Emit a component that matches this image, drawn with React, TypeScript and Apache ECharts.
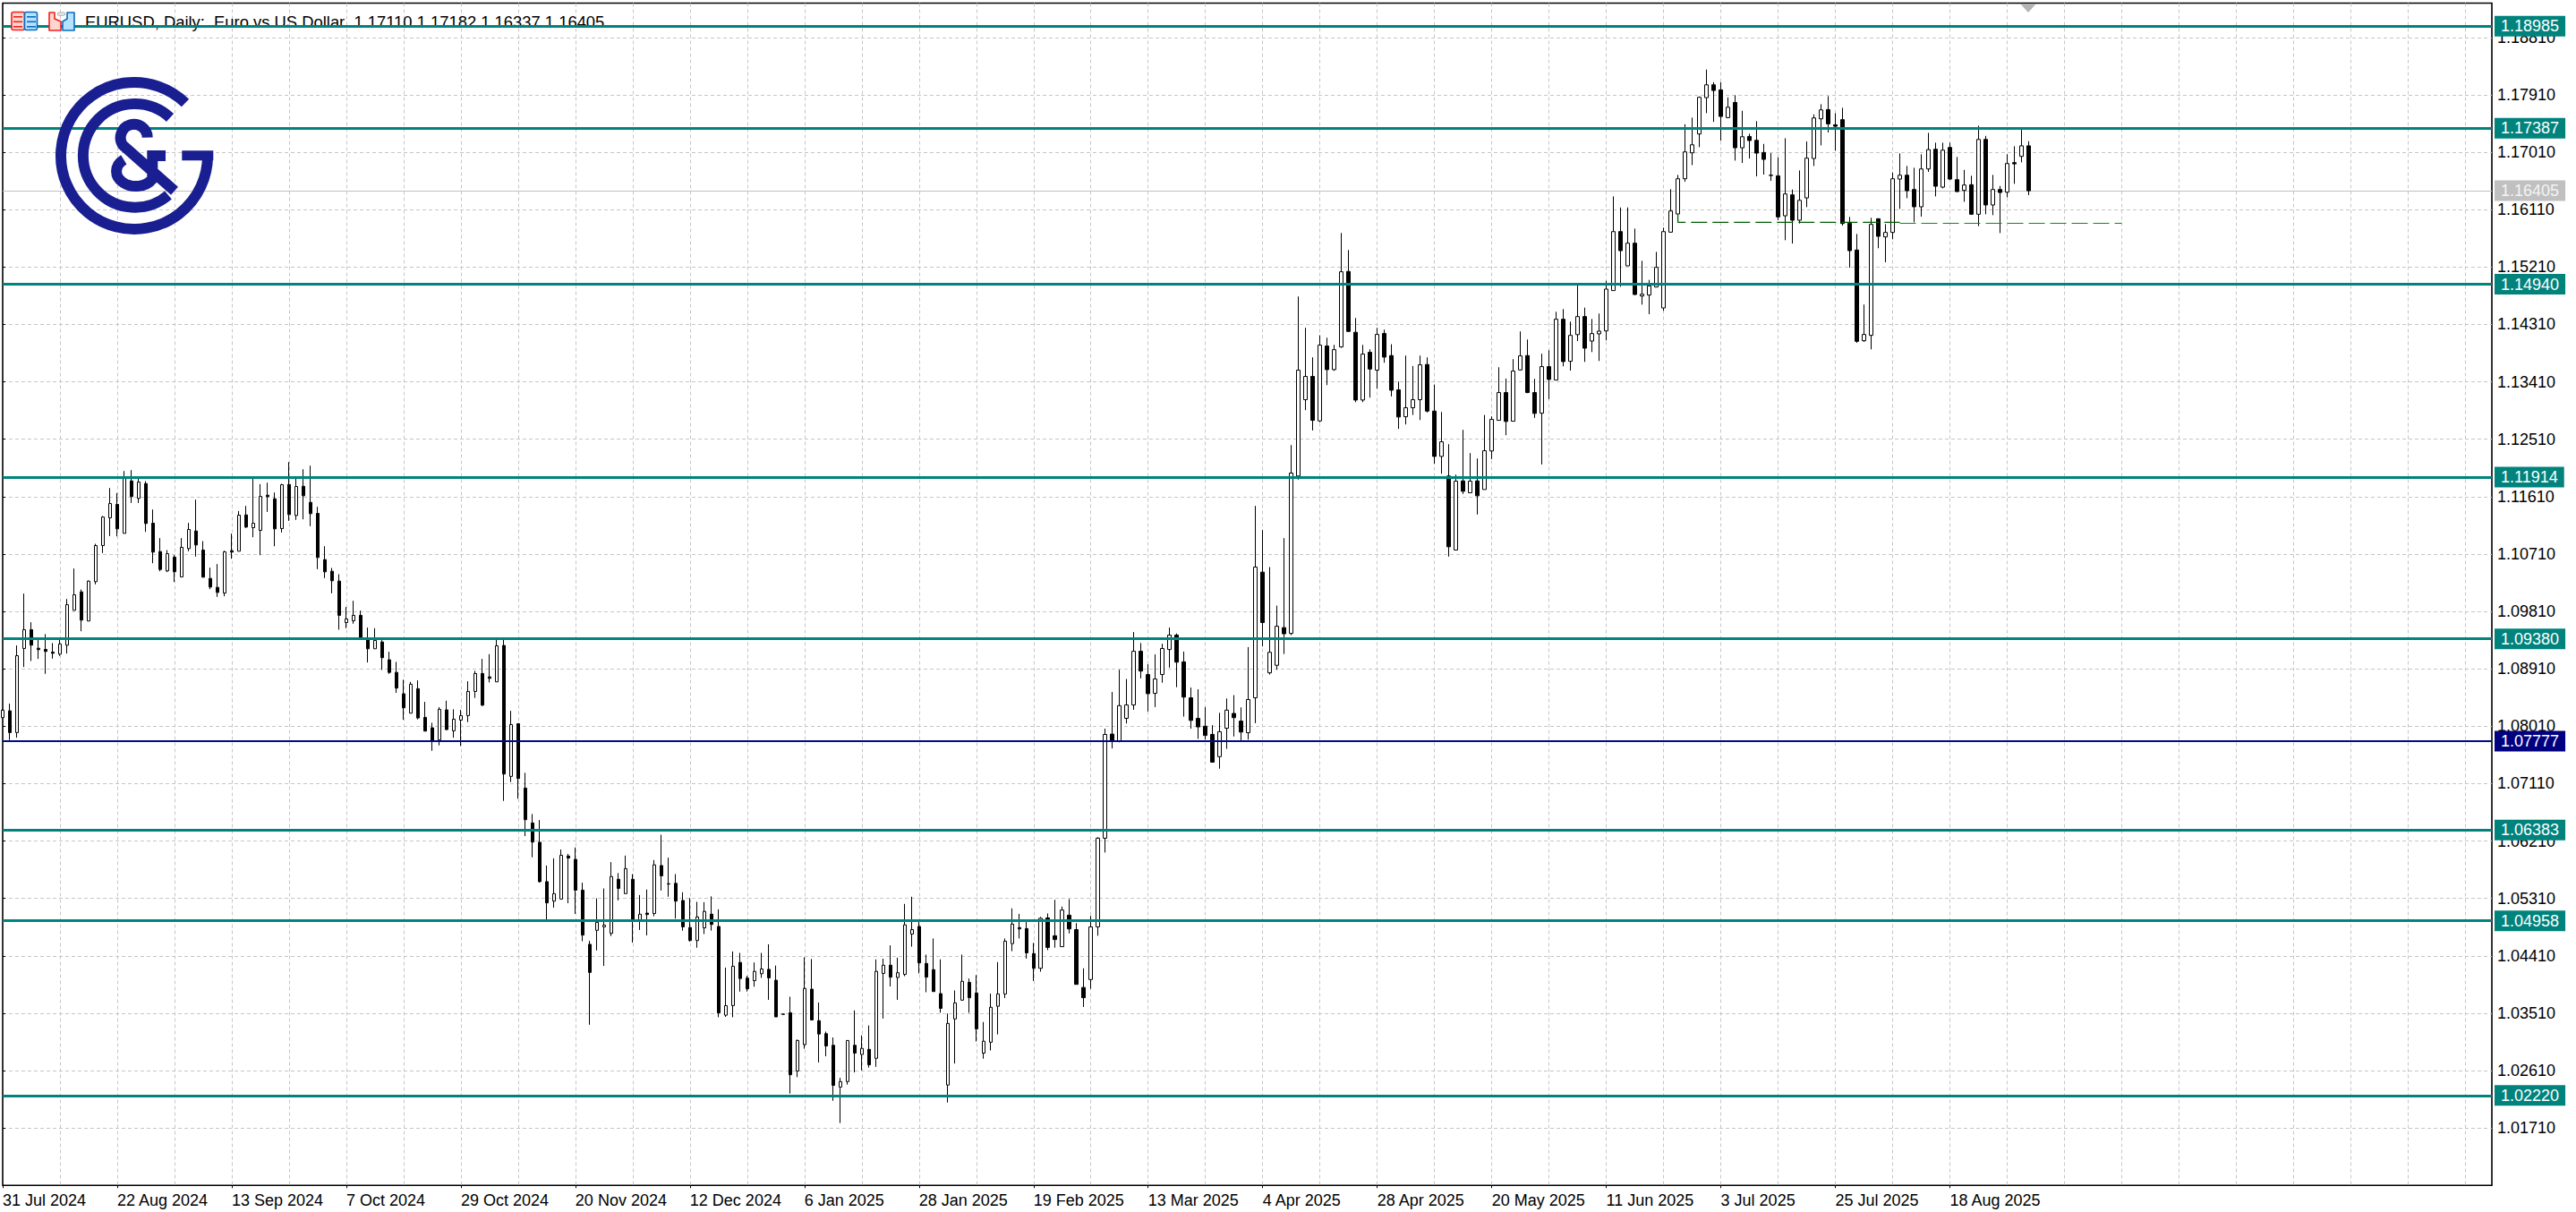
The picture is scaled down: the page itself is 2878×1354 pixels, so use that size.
import React, { useEffect, useRef } from "react";
import * as echarts from "echarts";

// Each row: open, close, low, high
const candlesAug2024ToNov2024 = [
[1.08144,1.08261,1.08144,1.08284],[1.08251,1.0791,1.07793,1.08363],[1.0791,1.09116,1.0783,1.09276],[1.09229,1.09523,1.08938,1.10089],
[1.09523,1.0928,1.09032,1.0964],[1.09233,1.0921,1.09065,1.09383],[1.09214,1.09182,1.08831,1.09453],[1.09172,1.09153,1.0907,1.09313],
[1.0914,1.09299,1.09112,1.09383],[1.0928,1.09915,1.09149,1.10004],[1.09827,1.1007,1.09827,1.10482],[1.10117,1.09673,1.09499,1.10154],
[1.09659,1.10285,1.09659,1.10295],[1.10276,1.10842,1.10234,1.1087],[1.10842,1.1129,1.10725,1.11305],[1.11277,1.11501,1.10991,1.11744],
[1.11487,1.11104,1.10987,1.11665],[1.11033,1.11908,1.11033,1.12011],[1.11856,1.11609,1.1151,1.12025],[1.11581,1.11838,1.1151,1.11908],
[1.11814,1.11188,1.11057,1.11852],[1.11193,1.10739,1.10566,1.11407],[1.10748,1.10468,1.1044,1.10959],[1.10445,1.10715,1.10426,1.10772],
[1.1066,1.1043,1.10271,1.10692],[1.1035,1.10814,1.1035,1.10959],[1.10795,1.11094,1.10753,1.11197],[1.11071,1.10851,1.10669,1.11562],
[1.10772,1.10346,1.10346,1.10912],[1.10327,1.10192,1.10159,1.10496],[1.10187,1.10107,1.10037,1.10552],[1.10098,1.10743,1.10047,1.10762],
[1.10762,1.10739,1.10636,1.11029],[1.10753,1.11319,1.10753,1.11384],[1.11323,1.11132,1.11118,1.11464],[1.11122,1.11192,1.10973,1.11908],
[1.1108,1.11613,1.10692,1.11805],[1.11632,1.11609,1.1137,1.11828],[1.11576,1.11104,1.10832,1.11674],[1.11108,1.11796,1.11047,1.1181],
[1.118,1.11328,1.1123,1.12151],[1.11314,1.11768,1.11244,1.11931],[1.11772,1.11623,1.11253,1.12039],[1.1152,1.11342,1.11146,1.12095],
[1.11347,1.10655,1.10472,1.1145],[1.10622,1.1043,1.10332,1.10832],[1.1044,1.1029,1.10094,1.10491],[1.10285,1.09748,1.09523,1.10393],
[1.09635,1.09691,1.09546,1.09878],[1.09663,1.09748,1.09617,1.09977],[1.09748,1.09392,1.09392,1.09822],[1.09392,1.09224,1.09009,1.09556],
[1.09224,1.09355,1.09224,1.09546],[1.09331,1.09084,1.08892,1.09359],[1.09051,1.08854,1.08831,1.09177],[1.08854,1.08607,1.08532,1.09018],
[1.08518,1.08298,1.08111,1.08738],[1.08214,1.08668,1.08214,1.08705],[1.08598,1.08139,1.08116,1.08729],[1.08148,1.07933,1.07933,1.08392],
[1.07985,1.07788,1.07624,1.08064],[1.07793,1.08275,1.07709,1.08308],[1.08266,1.07957,1.07947,1.0841],[1.07938,1.0812,1.0783,1.08275],
[1.08106,1.08176,1.07699,1.08266],[1.08176,1.08555,1.08074,1.08715],[1.08555,1.08836,1.08453,1.08878],[1.08836,1.0834,1.08326,1.09065],
[1.08784,1.0876,1.08696,1.0914],[1.08705,1.09271,1.08705,1.09383],[1.09276,1.0726,1.06839,1.09383],[1.07223,1.08036,1.07134,1.08251],
[1.0805,1.0719,1.06872,1.0805],[1.0704,1.06544,1.06287,1.07279],[1.06493,1.06194,1.05955,1.06633],
];
const candlesNov2024ToFeb2025 = [
[1.0619,1.05573,1.05557,1.06539],[1.05573,1.0524,1.04977,1.05825],[1.05267,1.05385,1.05165,1.05938],[1.05299,1.05986,1.05299,1.06077],
[1.05975,1.05943,1.05235,1.06008],[1.05922,1.05439,1.05068,1.06109],[1.05439,1.04735,1.04639,1.05557],[1.0459,1.0415,1.03329,1.04644],
[1.0481,1.04934,1.04494,1.0531],[1.04864,1.04891,1.04252,1.05466],[1.04762,1.05653,1.04719,1.05879],[1.0561,1.05466,1.05278,1.05707],
[1.05385,1.05777,1.05385,1.05981],[1.0561,1.0495,1.04617,1.05691],[1.04961,1.05063,1.04816,1.05363],[1.05079,1.05057,1.0473,1.05449],
[1.05073,1.05836,1.05031,1.05911],[1.05825,1.05664,1.05433,1.06308],[1.0554,1.05535,1.05337,1.05949],[1.05546,1.05267,1.04993,1.05691],
[1.05278,1.04864,1.04805,1.05406],[1.04853,1.0465,1.04633,1.05315],[1.0465,1.0502,1.04537,1.05256],[1.04848,1.05106,1.04751,1.05251],
[1.05063,1.04902,1.04805,1.05342],[1.0487,1.03517,1.03447,1.05138],[1.03479,1.03629,1.03452,1.04225],[1.03629,1.04247,1.03447,1.04478],
[1.04306,1.04054,1.03849,1.04456],[1.0406,1.03893,1.03849,1.04097],[1.04021,1.04166,1.03925,1.04306],[1.04129,1.04204,1.04064,1.04456],
[1.04198,1.04064,1.0372,1.0459],[1.04027,1.03452,1.03452,1.04257],[1.03497,1.03492,1.03492,1.03497],[1.03517,1.02545,1.0225,1.03769],
[1.02604,1.03082,1.02508,1.03098],[1.03018,1.03898,1.02953,1.04386],[1.03887,1.03404,1.03404,1.0436],[1.03393,1.03184,1.02738,1.03678],
[1.03189,1.02996,1.02835,1.03222],[1.03007,1.02379,1.02137,1.0313],[1.02352,1.02438,1.01788,1.02497],[1.02438,1.03082,1.0239,1.03087],
[1.03007,1.02884,1.02583,1.03554],[1.02862,1.02959,1.02615,1.03162],[1.02943,1.02701,1.02658,1.03318],[1.02803,1.04166,1.02669,1.04354],
[1.04134,1.04263,1.03426,1.04365],[1.04263,1.04075,1.0393,1.04574],[1.0407,1.04145,1.0372,1.0438],[1.04118,1.04896,1.04091,1.05224],
[1.04751,1.04821,1.04553,1.05336],[1.0487,1.043,1.04134,1.04966],[1.0429,1.04075,1.03839,1.04429],[1.04193,1.03849,1.03849,1.04682],
[1.03817,1.03586,1.03517,1.04354],[1.02384,1.0335,1.0211,1.03506],[1.0342,1.03672,1.02722,1.03866],[1.03715,1.0401,1.03705,1.04429],
[1.03994,1.03753,1.03517,1.04054],[1.03828,1.03265,1.03066,1.04107],[1.02884,1.03071,1.02797,1.03372],[1.03055,1.03603,1.02926,1.03817],
[1.03619,1.03812,1.03178,1.04311],[1.03812,1.04639,1.03747,1.04682],[1.04601,1.04907,1.04483,1.05154],[1.04853,1.04832,1.04682,1.05068],
[1.04837,1.04456,1.04365,1.04939],[1.04445,1.04214,1.04016,1.04612],[1.04214,1.04998,1.04161,1.0502],[1.05004,1.04542,1.04499,1.05074],
[1.04724,1.04665,1.04537,1.05288],[1.04553,1.05127,1.04553,1.05181],[1.05047,1.04832,1.04762,1.05299],[1.04821,1.03962,1.03962,1.04923],
];
const candlesMarToJun2025 = [
[1.03914,1.03753,1.03608,1.04214],[1.04038,1.04864,1.03893,1.05036],[1.04864,1.06254,1.04725,1.0627],[1.06254,1.07881,1.06029,1.07972],
[1.07886,1.07774,1.07661,1.08547],[1.07774,1.08332,1.07757,1.08895],[1.08133,1.08343,1.08053,1.0875],[1.08343,1.09185,1.08267,1.09486],
[1.09185,1.08874,1.0876,1.09314],[1.0882,1.0852,1.08241,1.08981],[1.08525,1.0875,1.0831,1.09137],[1.0882,1.09228,1.08692,1.09303],
[1.09212,1.09438,1.08928,1.09556],[1.09438,1.09014,1.08622,1.09464],[1.09019,1.08466,1.0816,1.0918],[1.08455,1.08101,1.07972,1.08616],
[1.08133,1.07999,1.07811,1.08589],[1.0801,1.07865,1.078,1.0831],[1.07881,1.07446,1.07446,1.08026],[1.07532,1.07924,1.07344,1.0822],
[1.07978,1.08262,1.07655,1.08445],[1.0821,1.08144,1.07849,1.08498],[1.0809,1.07918,1.0779,1.08305],[1.07908,1.08428,1.078,1.0925],
[1.08455,1.10505,1.08058,1.11464],[1.10426,1.09636,1.09261,1.11085],[1.08847,1.09169,1.0882,1.10505],[1.08965,1.09577,1.08896,1.099],
[1.09556,1.09459,1.09142,1.10959],[1.09464,1.11979,1.09438,1.12418],[1.11932,1.13592,1.11876,1.14747],[1.13129,1.13494,1.12965,1.14256],
[1.13494,1.12806,1.12647,1.13793],[1.12797,1.13985,1.12778,1.14139],[1.13971,1.13601,1.13358,1.14101],[1.13601,1.13914,1.13582,1.13989],
[1.13957,1.15135,1.13943,1.15743],[1.1514,1.142,1.1419,1.15476],[1.14186,1.13124,1.13091,1.1441],[1.13124,1.13844,1.13091,1.13989],
[1.13872,1.1361,1.13162,1.13919],[1.13592,1.14153,1.13302,1.14256],[1.14167,1.13797,1.13709,1.14228],[1.13821,1.13278,1.1318,1.13999],
[1.13283,1.12858,1.12671,1.13414],[1.12862,1.13003,1.12741,1.13821],[1.13003,1.13129,1.1289,1.13657],[1.13129,1.13676,1.1281,1.13821],
[1.13681,1.12951,1.12928,1.13793],[1.12951,1.1224,1.12123,1.13367],[1.1224,1.12469,1.11969,1.12937],[1.11932,1.10823,1.10669,1.12432],
[1.10772,1.11852,1.10772,1.11955],[1.11857,1.11693,1.11651,1.12657],[1.1167,1.11852,1.1167,1.12292],[1.11857,1.11623,1.11329,1.12208],
[1.11721,1.12329,1.11721,1.1289],[1.12325,1.1282,1.12198,1.12867],[1.12806,1.13241,1.12806,1.13638],[1.13241,1.12788,1.12572,1.13461],
[1.12792,1.13578,1.12792,1.13765],[1.13596,1.13816,1.13587,1.142],[1.13821,1.13241,1.13232,1.14073],[1.13241,1.12914,1.12844,1.13456],
[1.12918,1.13648,1.12114,1.1385],[1.13648,1.13447,1.13138,1.13905],[1.13437,1.14391,1.13437,1.14508],[1.14391,1.13727,1.13653,1.1455],
];
const candlesJunToSep2025 = [
[1.13731,1.14138,1.13586,1.14353],[1.1415,1.14433,1.14049,1.14924],[1.14433,1.13937,1.13722,1.14573],[1.14049,1.14166,1.13876,1.14395],
[1.14162,1.14204,1.13736,1.1448],[1.14208,1.14863,1.14059,1.14994],[1.1484,1.15765,1.1484,1.16317],[1.15765,1.15466,1.149,1.16144],
[1.15228,1.15583,1.15228,1.16144],[1.15583,1.14779,1.1477,1.15812],[1.14755,1.14783,1.1462,1.15307],[1.1477,1.14914,1.1447,1.15008],
[1.14896,1.15204,1.14891,1.15447],[1.14568,1.15765,1.14522,1.15826],[1.15756,1.16088,1.15751,1.1643],[1.16041,1.16593,1.16041,1.16654],
[1.16593,1.17014,1.16546,1.17449],[1.17,1.17126,1.16808,1.17552],[1.17295,1.1787,1.17089,1.17884],[1.17865,1.18066,1.17622,1.18305],
[1.18066,1.17977,1.17486,1.18108],[1.17987,1.1757,1.17192,1.18108],[1.17552,1.17715,1.17542,1.1787],[1.1779,1.17079,1.16878,1.17902],
[1.17079,1.17252,1.16841,1.17659],[1.17257,1.17192,1.16911,1.17299],[1.17196,1.16995,1.16631,1.17496],[1.17005,1.16897,1.16659,1.1714],
[1.16649,1.16645,1.1656,1.16995],[1.1664,1.15995,1.15943,1.1693],[1.16013,1.16355,1.1563,1.17229],[1.16341,1.15943,1.15578,1.16425],
[1.15943,1.16256,1.15892,1.16724],[1.16294,1.16916,1.16149,1.17178],[1.16911,1.17547,1.16794,1.17603],[1.17533,1.17673,1.17117,1.17762],
[1.17678,1.17454,1.17318,1.17888],[1.17439,1.17416,1.17033,1.17622],[1.1752,1.15892,1.15859,1.17706],[1.15896,1.15466,1.152,1.15995],
[1.15476,1.14045,1.14021,1.15728],[1.14054,1.14152,1.14035,1.1462],[1.14138,1.15878,1.13918,1.15981],[1.15967,1.15691,1.15504,1.15967],
[1.15681,1.15752,1.15284,1.15882],[1.15752,1.16593,1.15644,1.16691],[1.16588,1.16649,1.16121,1.16991],[1.16649,1.16406,1.16289,1.16794],
[1.16425,1.16154,1.1591,1.16766],[1.16154,1.16747,1.16,1.16977],[1.16747,1.17051,1.16701,1.17313],[1.17056,1.16476,1.16317,1.17159],
[1.16462,1.17042,1.16443,1.17159],[1.17084,1.16588,1.16574,1.17159],[1.16579,1.16392,1.16387,1.16935],[1.16411,1.16495,1.16233,1.16733],
[1.165,1.16037,1.16027,1.1664],[1.16037,1.1721,1.1585,1.17425],[1.1721,1.16182,1.16037,1.17266],[1.16182,1.16425,1.16023,1.16654],
[1.16425,1.16378,1.15742,1.16481],[1.16383,1.16832,1.16303,1.16977],[1.16846,1.16827,1.16514,1.17103],[1.16944,1.1711,1.1685,1.17369],
[1.1711,1.16405,1.16337,1.17182],
];

const xTickLabels = ["31 Jul 2024","22 Aug 2024","13 Sep 2024","7 Oct 2024","29 Oct 2024","20 Nov 2024","12 Dec 2024","6 Jan 2025","28 Jan 2025","19 Feb 2025","13 Mar 2025","4 Apr 2025","28 Apr 2025","20 May 2025","11 Jun 2025","3 Jul 2025","25 Jul 2025","18 Aug 2025"];
const xTickBarIndex = [0, 16, 32, 48, 64, 80, 96, 112, 128, 144, 160, 176, 192, 208, 224, 240, 256, 272];
const tealLevels = [1.18985, 1.17387, 1.1494, 1.11914, 1.0938, 1.06383, 1.04958, 1.0222];
const blueLevel = 1.07777;
const lastPrice = 1.16405;
const supportLineA = [[234, 1.1604], [234, 1.15909], [265, 1.15909]];
const supportLineB = [[265, 1.15895], [296, 1.15895]];
const titleText = "EURUSD, Daily:  Euro vs US Dollar  1.17110 1.17182 1.16337 1.16405";

const TEAL = "#00837d";
const NAVY = "#000a8c";
const FONT = '"Liberation Sans", Arial, sans-serif';
const GRIDLINE = { show: true, showMinLine: false, showMaxLine: false, lineStyle: { color: "#c6c6c6", width: 1, type: [4, 3] as number[] } };

const logoPath =
  "M207 115 A82 82 0 1 0 232 174 " +
  "M190 131.5 A57.8 57.8 0 1 0 188 218 " +
  "M164.67 153.67 A15 15 0 1 0 137.3 162.3 L195 213.3 " +
  "M138.3 178.3 A21.67 16.67 0 1 0 170.3 200 L170.3 174 L185 174";
echarts.graphic.registerShape("gcLogo", echarts.graphic.extendPath(logoPath, {}));

function levelLine(value: number, color: string, width: number, labelBg: string, labelColor = "#fff") {
  return {
    yAxis: value,
    lineStyle: { color, width, type: "solid" },
    label: {
      show: true, position: "end", distance: 3, padding: [2, 7, 2, 7],
      color: labelColor, backgroundColor: labelBg, fontFamily: FONT, fontSize: 18, lineHeight: 19,
      formatter: () => value.toFixed(5),
    },
  };
}

export default function App() {
  const ref = useRef<HTMLDivElement>(null);
  useEffect(() => {
    document.body.style.margin = "0";
    const chart = echarts.init(ref.current!, undefined, { renderer: "svg" });
    const candles = [...candlesAug2024ToNov2024, ...candlesNov2024ToFeb2025, ...candlesMarToJun2025, ...candlesJunToSep2025];
    const data = candles.map((row, i) => [i, ...row]);
    const xMax = 347.7;
    chart.setOption({
      animation: false,
      backgroundColor: "#fff",
      grid: { left: 2.3, top: 3.5, width: 2781.7, height: 1320.8, show: true, backgroundColor: "#fff", borderColor: "#000", borderWidth: 1.6, containLabel: false },
      tooltip: { show: false },
      xAxis: [
        { type: "value", min: 0, max: xMax, interval: 8, position: "bottom", axisLine: { show: false }, axisTick: { show: false }, axisLabel: { show: false }, splitLine: GRIDLINE },
        {
          type: "value", min: 0, max: xMax, interval: 16, position: "bottom", axisLine: { show: false }, splitLine: { show: false },
          axisTick: { show: true, length: 3, customValues: xTickBarIndex, lineStyle: { color: "#000", width: 1 } },
          axisLabel: { show: true, margin: 8, align: "left", color: "#000", fontFamily: FONT, fontSize: 18, customValues: xTickBarIndex, formatter: (v: number) => xTickLabels[xTickBarIndex.indexOf(v)] ?? "" },
        },
      ],
      yAxis: {
        type: "value", position: "right", min: 1.0081, max: 1.19347, interval: 0.009, scale: true, axisLine: { show: false },
        axisTick: { show: true, length: 3, lineStyle: { color: "#000", width: 1 } },
        axisLabel: { show: true, margin: 6, color: "#000", fontFamily: FONT, fontSize: 18, showMinLabel: false, showMaxLabel: false, formatter: (v: number) => v.toFixed(5) },
        splitLine: GRIDLINE,
      },
      series: [
        {
          type: "line", data: [], silent: true, z: 1,
          markLine: { silent: true, z: 1, symbol: "none", animation: false, precision: 5, data: [levelLine(lastPrice, "#c0c0c0", 1, "#c0c0c0", "#f4f4f4")] },
        },
        {
          type: "candlestick", data, barWidth: 4, encode: { x: 0, y: [1, 2, 3, 4] }, silent: true, z: 2,
          itemStyle: { color: "#fff", color0: "#000", borderColor: "#000", borderColor0: "#000", borderWidth: 1 },
          markLine: {
            silent: true, z: 5, symbol: "none", animation: false, precision: 5,
            data: [...tealLevels.map((v) => levelLine(v, TEAL, 3, TEAL)), levelLine(blueLevel, NAVY, 2, "#000080")],
          },
        },
        { type: "line", data: supportLineA, silent: true, symbol: "none", z: 3, lineStyle: { color: "#005c00", width: 1.3, type: [18, 6] } },
        { type: "line", data: supportLineB, silent: true, symbol: "none", z: 3, lineStyle: { color: "#0a8a0a", width: 1, type: [18, 6] } },
      ],
      graphic: [
        { type: "text", z: 1, x: 95, y: 15, style: { text: titleText, fill: "#000", font: `18.4px ${FONT}` } },
        { type: "polygon", z: 8, shape: { points: [[2257, 4], [2275, 4], [2266, 14]] }, style: { fill: "#b4b4b4" } },
        // toolbar icons
        { type: "rect", z: 8, shape: { x: 13, y: 13.5, width: 14.5, height: 20, r: 2 }, style: { fill: "#ffd6cc", stroke: "#f02020", lineWidth: 1.6 } },
        { type: "rect", z: 8, shape: { x: 27.5, y: 13.5, width: 14, height: 20, r: 2 }, style: { fill: "#b5e2ff", stroke: "#0a6cc0", lineWidth: 1.6 } },
        ...[18, 23.5, 29].flatMap((y) => [
          { type: "rect", z: 9, shape: { x: 15, y, width: 10, height: 1.6 }, style: { fill: "#f02020" } },
          { type: "rect", z: 9, shape: { x: 30, y, width: 10, height: 1.6 }, style: { fill: "#0a6cc0" } },
        ]),
        { type: "polygon", z: 8, shape: { points: [[55, 14], [61, 14], [61, 21], [68, 24], [68, 34], [55, 34]] }, style: { fill: "#ffd6cc", stroke: "#f02020", lineWidth: 1.6, lineJoin: "round" } },
        { type: "polygon", z: 8, shape: { points: [[70, 34], [70, 24], [75, 21], [75, 14], [83, 14], [83, 34]] }, style: { fill: "#b5e2ff", stroke: "#0a6cc0", lineWidth: 1.6, lineJoin: "round" } },
        { type: "rect", z: 9, shape: { x: 64.5, y: 14, width: 8, height: 3.2, r: 1 }, style: { fill: "#eeeeee", stroke: "#a8a8a8", lineWidth: 1 } },
        // logo
        { type: "gcLogo", z: 10, x: 0, y: 0, style: { stroke: "#191e90", lineWidth: 12, fill: "none" } },
        { type: "rect", z: 10, shape: { x: 203.3, y: 168.3, width: 35, height: 11 }, style: { fill: "#191e90" } },
      ],
    });
    return () => chart.dispose();
  }, []);
  return <div ref={ref} style={{ position: "fixed", left: 0, top: 0, width: 2878, height: 1354 }} />;
}
